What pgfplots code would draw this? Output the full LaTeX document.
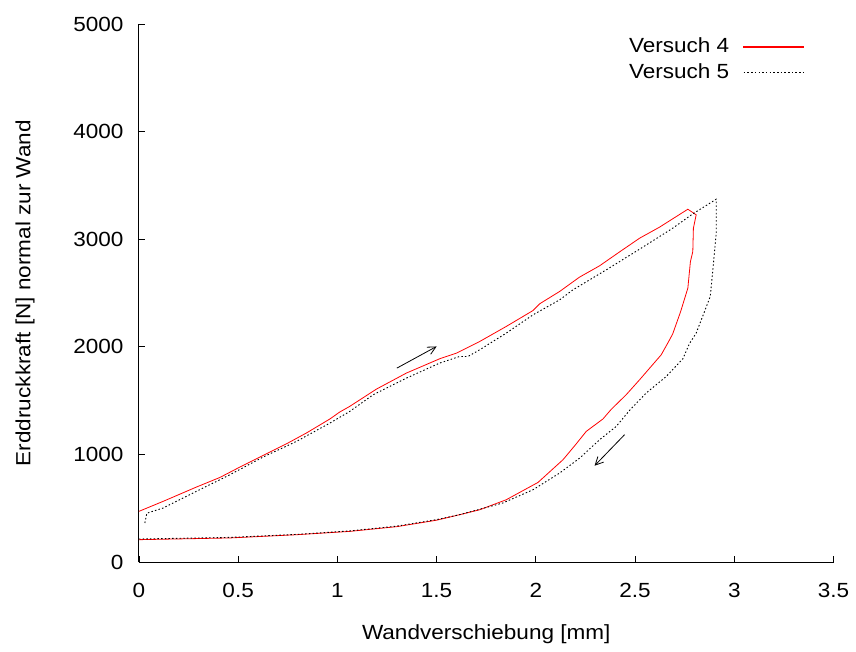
\documentclass[border=0pt]{standalone}
\usepackage{fontspec}
\setmainfont{Liberation Sans}[FakeStretch=1.1]
\usepackage{pgfplots}
\pgfplotsset{compat=1.18}
\usetikzlibrary{arrows.meta}
\definecolor{vred}{RGB}{255,0,0}
\begin{document}
\fontsize{20.5pt}{24pt}\selectfont
\begin{tikzpicture}
\begin{axis}[
 scale only axis, width=695pt, height=538.5pt,
 xmin=0, xmax=3.5, ymin=0, ymax=5000,
 axis x line*=bottom, axis y line*=left,
 axis line style={-, line width=0.9pt, black},
 xtick={0,0.5,1,1.5,2,2.5,3,3.5}, ytick={0,1000,2000,3000,4000,5000},
 tick align=inside, major tick length=6pt, tick style={line width=0.8pt, black},
 /pgf/number format/assume math mode=true,
 /pgf/number format/1000 sep={},
 xticklabel style={yshift=-14pt},
 yticklabel style={xshift=-8.5pt},
 xlabel={Wandverschiebung [mm]},
 ylabel={Erddruckkraft [N] normal zur Wand},
 xlabel style={at={(axis description cs:0.5,-0.1337)}, anchor=center},
 ylabel style={at={(axis description cs:-0.164,0.5)}, anchor=center},
 legend style={fill=none, draw=none, at={(axis description cs:0.958,0.978)}, anchor=north east, row sep=4pt, column sep=12pt, inner sep=0pt},
 legend cell align=right,
 legend plot pos=right,
]
\addplot[vred, line width=0.8pt,
  legend image code/.code={\fill[vred] (0pt,-0.5pt) rectangle (60pt,0.5pt);}] coordinates {
(0,472) (0.122,565) (0.29,698) (0.408,787) (0.509,884) (0.643,1007) (0.744,1100)
(0.844,1200) (0.962,1330) (1.012,1395) (1.062,1447) (1.197,1608) (1.348,1757)
(1.516,1890) (1.6,1942) (1.717,2050) (1.851,2190) (1.986,2338) (2.019,2400)
(2.12,2515) (2.22,2648) (2.321,2753) (2.42,2880) (2.523,3010) (2.623,3112)
(2.766,3279) (2.808,3227) (2.794,3103) (2.791,2886) (2.779,2793) (2.766,2546)
(2.73,2330) (2.69,2122) (2.674,2066) (2.632,1927) (2.523,1695) (2.455,1555)
(2.38,1420) (2.338,1330) (2.254,1215) (2.204,1100) (2.137,952) (2.011,741) (1.851,580)
(1.717,487) (1.616,441) (1.5,390) (1.3,330) (1.062,286) (0.794,255) (0.458,225) (0,209)
};
\addlegendentry{Versuch 4}
\addplot[black, line width=0.9pt, dash pattern=on 1.5pt off 2.2pt,
  legend image code/.code={\draw[draw=black, line width=0.9pt, dash pattern=on 1.5pt off 2.2pt] (0pt,0pt) -- (60pt,0pt);}] coordinates {
(0.03,364) (0.04,455) (0.122,503) (0.29,658) (0.458,812) (0.626,977) (0.794,1122)
(0.962,1292) (1.062,1400) (1.18,1555) (1.348,1710) (1.516,1850) (1.616,1911)
(1.658,1911) (1.717,1973) (1.851,2128) (1.986,2298) (2.12,2437) (2.187,2530)
(2.355,2716) (2.523,2908) (2.69,3103) (2.791,3236) (2.909,3372) (2.909,3304)
(2.909,3057) (2.892,2716) (2.879,2468) (2.808,2128) (2.774,2030) (2.741,1890)
(2.657,1725) (2.556,1571) (2.475,1416) (2.405,1261) (2.321,1137) (2.221,967)
(2.12,828) (1.986,673) (1.834,550) (1.616,441) (1.5,395) (1.3,335) (1.062,290)
(0.794,258) (0.458,230) (0,215)
};
\addlegendentry{Versuch 5}
\draw[line width=0.8pt, -{Straight Barb[length=8pt,width=8pt]}] (axis cs:1.30,1803) -- (axis cs:1.50,2004);
\draw[line width=0.8pt, -{Straight Barb[length=8pt,width=8pt]}] (axis cs:2.447,1184) -- (axis cs:2.296,896);
\end{axis}
\path (current axis.south west) ++(-139pt,-89.5pt);
\path (current axis.north east) ++(22pt,24pt);
\end{tikzpicture}
\end{document}
